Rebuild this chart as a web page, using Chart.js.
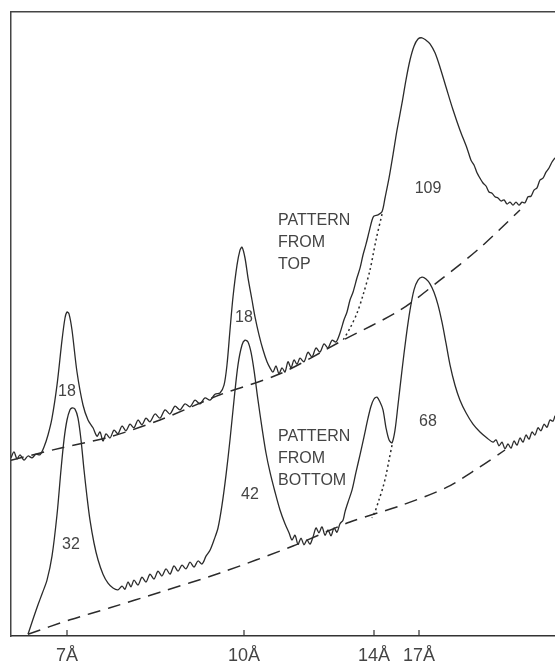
<!DOCTYPE html>
<html>
<head>
<meta charset="utf-8">
<script src="https://cdn.jsdelivr.net/npm/chart.js@4"></script>
<style>
  html, body { margin: 0; padding: 0; background: #fff; }
  #wrap { width: 555px; height: 667px; }
</style>
</head>
<body>
<div id="wrap"><canvas id="xrd"></canvas></div>
<script>
// x = position along the scan (arbitrary units, 2θ decreasing to the right), y = intensity (arbitrary units)
const tickPos = [14, 58.25, 90.75, 102];
const tickLabels = ['7Å', '10Å', '14Å', '17Å'];

// pattern from top
const topTrace = [
  [0,29.7],[0.75,30.7],[1.5,29.5],[2.25,30.2],[3.25,29.3],[4.25,30.0],[5.25,29.7],[6.25,30.3],[7.25,30.2],
  [8.25,31.5],[9.25,33.5],[10.25,36.3],[11.5,41.8],[12.75,49.3],[13.5,53.0],[14,54.0],[14.5,53.7],[15.25,51.0],
  [16.5,44.0],[18,38.5],[19.25,36.0],[20.5,34.7],[21.5,33.3],[22.25,34.0],[23,32.5],[23.75,33.7],[24.75,33.0],
  [25.75,34.3],[26.75,33.7],[27.75,35.0],[28.75,34.2],[29.75,35.3],[30.75,34.7],[31.75,36.0],[32.75,35.2],
  [33.75,36.3],[34.75,35.7],[36,37.0],[37.25,36.3],[38.5,37.7],[39.75,37.0],[41,38.3],[42.25,37.7],[43.5,38.7],
  [44.75,38.2],[46,39.3],[47.25,38.7],[48.5,39.7],[49.75,39.3],[51,40.3],[52.25,40.5],[53.25,41.8],[54,45.2],
  [54.75,51.0],[55.5,56.5],[56.5,61.8],[57.25,64.3],[57.75,64.8],[58.5,63.0],[59.25,59.7],[60.25,56.0],[61,53.2],
  [62,50.2],[63,47.7],[64,45.7],[64.75,44.7],[65.5,44.0],[66.25,45.0],[67,43.7],[67.75,44.7],[68.5,44.0],
  [69.25,45.7],[70,44.7],[70.75,46.0],[71.5,45.3],[72.25,46.3],[73.25,45.7],[74.25,47.3],[75.25,46.5],[76.25,48.0],
  [77.25,47.3],[78.25,48.7],[79.25,48.0],[80.25,49.3],[81.25,49.0],[82.25,50.5],[83.25,52.7],[84,54.0],[84.75,56.0],
  [85.5,57.3],[86.5,59.7],[87.25,61.3],[88,63.5],[88.75,65.3],[89.5,67.3],[90.25,69.3],[90.75,70.0],[91.75,70.2],
  [92.75,70.7],[93.5,73.0],[94.5,76.3],[95.5,80.2],[96.5,84.3],[97.75,88.8],[98.75,92.7],[99.75,96.0],[100.75,98.3],
  [101.75,99.5],[102.75,99.7],[103.75,99.3],[104.75,98.7],[106,97.2],[107.25,94.8],[108.75,91.5],[110.5,87.7],
  [112.25,84.3],[114,81.3],[115,79.3],[115.75,78.5],[116.5,77.2],[117.25,76.3],[118,75.5],[118.75,75.0],[119.5,74.0],
  [120.25,73.8],[121,73.2],[121.75,73.0],[122.5,72.5],[123.25,72.7],[124,72.0],[124.75,72.3],[125.5,71.8],
  [126.25,72.3],[127,71.8],[127.75,72.3],[128.5,72.2],[129.25,73.2],[130,73.3],[130.75,74.3],[131.5,74.7],
  [132.25,76.0],[133,76.3],[133.75,77.3],[134.5,78.0],[135.25,79.0],[136,79.7]
];
const topShoulder = [[92.75,70.3],[91.25,66.0],[89.75,61.0],[88,56.8],[86.5,53.8],[84.75,51.3],[83,49.3]];
const topBackground = [[0,29.3],[12.25,31.3],[24.75,33.2],[37.25,36.0],[52.25,40.2],[67.25,43.7],[83,49.3],
  [97.25,54.3],[107.25,59.3],[117.25,64.7],[127.25,71.0]];

// pattern from bottom
const bottomTrace = [
  [4.25,0.3],[5,1.8],[5.75,3.3],[6.75,5.2],[7.75,7.0],[9,9.3],[10.25,13.3],[11.5,20.2],[12.5,27.7],[13.25,32.7],
  [14,36.0],[14.75,37.7],[15.25,38.0],[16,37.8],[16.75,36.3],[17.5,32.7],[18.25,27.7],[19,23.2],[19.75,19.3],
  [20.75,15.5],[21.75,12.7],[23,10.3],[24.25,8.8],[25.5,8.0],[26.75,7.7],[27.75,8.3],[28.5,7.8],[29.25,9.0],
  [30,8.2],[30.75,9.3],[31.75,8.5],[32.75,9.8],[33.75,9.0],[34.75,10.3],[35.75,9.5],[36.75,10.8],[37.75,10.0],
  [38.75,11.2],[39.75,10.3],[40.75,11.7],[41.75,10.8],[42.75,11.8],[43.75,11.2],[44.75,12.3],[45.75,11.5],
  [46.75,12.5],[47.75,12.0],[48.75,13.3],[49.75,14.3],[50.75,16.0],[51.75,18.0],[52.75,21.8],[53.75,26.8],
  [54.75,32.7],[55.75,39.3],[56.75,45.2],[57.75,48.5],[58.5,49.3],[59.25,49.0],[60,47.3],[60.75,44.3],[61.75,39.3],
  [62.75,34.7],[63.75,30.5],[64.75,27.3],[66,24.0],[67.25,21.0],[68.5,18.7],[69.5,17.2],[70.25,16.0],[71,16.8],
  [71.75,15.3],[72.5,16.3],[73.25,15.2],[74,16.0],[74.75,15.3],[75.5,16.5],[76.25,18.0],[77,17.2],[77.75,18.2],
  [78.5,16.8],[79.25,17.7],[80,16.7],[80.75,18.0],[81.5,17.3],[82.25,18.7],[83,19.3],[83.5,20.7],[84.25,22.3],
  [85.25,24.3],[86.25,27.3],[87.25,30.2],[88.25,33.2],[89.25,36.3],[90,38.3],[90.75,39.5],[91.5,39.8],[92.25,39.0],
  [93,37.7],[93.75,34.7],[94.5,32.7],[95.25,32.2],[96,34.3],[96.75,38.5],[97.75,44.3],[98.75,49.7],[99.75,54.3],
  [100.75,57.7],[101.75,59.3],[102.75,59.8],[103.75,59.5],[104.75,58.7],[105.75,57.3],[106.75,55.2],[107.75,52.3],
  [108.75,48.8],[109.75,45.2],[111,41.8],[112.25,39.3],[113.75,37.2],[115.5,35.3],[117.25,34.0],[119,33.0],
  [120.5,32.3],[121.25,32.7],[122,31.7],[122.75,32.3],[123.5,31.2],[124.25,32.0],[125,31.3],[125.75,32.5],
  [126.5,31.8],[127.25,33.0],[128,32.3],[128.75,33.5],[129.5,32.8],[130.25,34.0],[131,33.5],[131.75,34.7],
  [132.5,34.2],[133.25,35.3],[134,34.8],[134.75,36.0],[135.5,35.8],[136,36.7]
];
const bottomShoulder = [[95.25,31.8],[94.5,29.3],[93.75,26.8],[93,24.8],[92,22.7],[91,20.7],[90.25,19.7]];
const bottomBackground = [[4.25,0.3],[14.75,2.7],[24.75,4.7],[37.25,7.3],[52.25,10.5],[70.5,15.0],[84.75,19.0],
  [97.25,21.7],[109,24.8],[117.25,28.2],[123.5,31.0]];

// peak areas and captions, placed in data units
const notes = [
  { text: '18', x: 14, y: 40.7 },
  { text: '32', x: 15, y: 15.2 },
  { text: '18', x: 58.25, y: 53.0 },
  { text: '42', x: 59.75, y: 23.5 },
  { text: '109', x: 104.25, y: 74.5 },
  { text: '68', x: 104.25, y: 35.8 }
];
const captions = [
  { lines: ['PATTERN', 'FROM', 'TOP'], x: 66.75, y: 69.2 },
  { lines: ['PATTERN', 'FROM', 'BOTTOM'], x: 66.75, y: 33.3 }
];

const ink = '#2b2b2b';
const textInk = '#444';
const toXY = arr => arr.map(p => ({ x: p[0], y: p[1] }));

function lineSet(arr, dash, width) {
  return {
    data: toXY(arr),
    showLine: true,
    borderColor: ink,
    borderWidth: width,
    borderDash: dash,
    pointRadius: 0,
    tension: 0.3,
    fill: false
  };
}

const annotate = {
  id: 'annotate',
  afterDatasetsDraw(chart) {
    const ctx = chart.ctx;
    const xs = chart.scales.x, ys = chart.scales.y;
    ctx.save();
    // inward tick marks on the bottom axis
    ctx.strokeStyle = '#333';
    ctx.lineWidth = 1.2;
    tickPos.forEach(v => {
      const px = xs.getPixelForValue(v);
      ctx.beginPath();
      ctx.moveTo(px, ys.bottom);
      ctx.lineTo(px, ys.bottom - 6);
      ctx.stroke();
    });
    ctx.fillStyle = textInk;
    ctx.font = '16px "Liberation Sans", Arial, sans-serif';
    ctx.textBaseline = 'middle';
    ctx.textAlign = 'center';
    notes.forEach(n => ctx.fillText(n.text, xs.getPixelForValue(n.x), ys.getPixelForValue(n.y)));
    ctx.textAlign = 'left';
    captions.forEach(c => {
      const px = xs.getPixelForValue(c.x);
      const py = ys.getPixelForValue(c.y);
      c.lines.forEach((t, i) => ctx.fillText(t, px, py + i * 22));
    });
    ctx.restore();
  }
};

new Chart(document.getElementById('xrd'), {
  type: 'scatter',
  data: {
    datasets: [
      lineSet(topTrace, [], 1.3),
      lineSet(topShoulder, [2, 3], 1.5),
      lineSet(topBackground, [13, 8], 1.5),
      lineSet(bottomTrace, [], 1.3),
      lineSet(bottomShoulder, [2, 3], 1.5),
      lineSet(bottomBackground, [13, 8], 1.5)
    ]
  },
  options: {
    responsive: true,
    maintainAspectRatio: false,
    animation: false,
    layout: { padding: { left: 11, top: 12, right: 0, bottom: 2 } },
    plugins: { legend: { display: false }, tooltip: { enabled: false } },
    scales: {
      x: {
        type: 'linear',
        min: 0,
        max: 136,
        grid: { display: false, drawTicks: false },
        border: { display: true, color: '#333', width: 1.5 },
        afterBuildTicks: s => { s.ticks = tickPos.map(v => ({ value: v })); },
        afterFit: s => { s.height = 29; },
        ticks: {
          padding: 9,
          color: textInk,
          font: { family: '"Liberation Sans", Arial, sans-serif', size: 18 },
          callback: (v) => tickLabels[tickPos.indexOf(v)] || ''
        }
      },
      xTop: {
        type: 'linear',
        position: 'top',
        min: 0,
        max: 136,
        grid: { display: false },
        ticks: { display: false },
        afterFit: s => { s.height = 0; },
        border: { display: true, color: '#444', width: 1.5 }
      },
      y: {
        min: 0,
        max: 104,
        grid: { display: false },
        ticks: { display: false },
        afterFit: s => { s.width = 0; },
        border: { display: true, color: '#444', width: 1.5 }
      }
    }
  },
  plugins: [annotate]
});
</script>
</body>
</html>
